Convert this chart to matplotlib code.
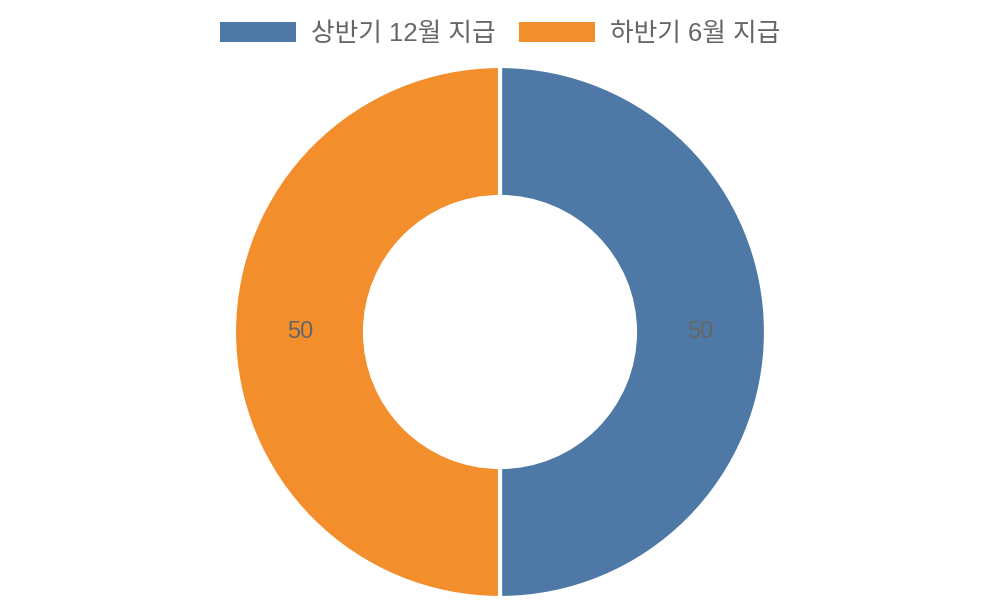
import matplotlib
matplotlib.use("Agg")
import matplotlib.pyplot as plt
from matplotlib.patches import Patch

plt.rcParams['font.family'] = ['Liberation Sans', 'Noto Sans CJK KR', 'DejaVu Sans']

categories = ['상반기 12월 지급', '하반기 6월 지급']
values = [50, 50]
colors = ['#4E79A7', '#F28E2B']

fig = plt.figure(figsize=(10, 6), dpi=100)
ax = fig.add_axes([0, 0, 1, 1])

R = 266
wedges, texts, autotexts = ax.pie(
    values, colors=colors, startangle=90, counterclock=False,
    center=(500, 268), radius=R, frame=True,
    wedgeprops=dict(width=131, edgecolor='white', linewidth=3),
    autopct=lambda p: f'{p * sum(values) / 100:.0f}', pctdistance=200 / R,
    textprops=dict(color='#666666', fontsize=17),
)
ax.set_xlim(0, 1000)
ax.set_ylim(0, 600)
ax.set_aspect('equal')
ax.axis('off')

fs = 18.5
px = fs * 100 / 72
handles = [Patch(facecolor=c, edgecolor='none') for c in colors]
leg = ax.legend(handles, categories, loc='center', bbox_to_anchor=(0.5, 1 - 34 / 600),
                bbox_transform=fig.transFigure, ncol=2, frameon=False,
                fontsize=fs, handlelength=76 / px, handleheight=21 / px,
                handletextpad=15 / px, columnspacing=23 / px, borderaxespad=0)
for t in leg.get_texts():
    t.set_color('#666666')

fig.savefig('out.png', dpi=100)
